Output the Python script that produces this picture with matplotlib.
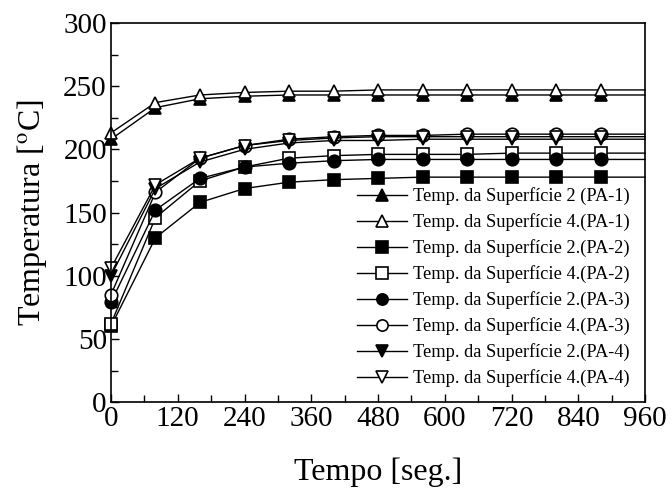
import matplotlib.pyplot as plt
from matplotlib.ticker import MultipleLocator

plt.rcParams['font.family'] = ['Liberation Serif', 'DejaVu Serif']
plt.rcParams['mathtext.fontset'] = 'stix'

# time (s): markers at 0..880, curve carried on to 960
tempo = [0, 80, 160, 240, 320, 400, 480, 560, 640, 720, 800, 880, 960]

s2_pa1 = [208, 233, 240, 242, 243, 243, 243, 243, 243, 243, 243, 243, 243]
s4_pa1 = [213, 237, 243, 245, 246, 246, 247, 247, 247, 247, 247, 247, 247]
s2_pa2 = [60, 130, 158, 169, 174, 176, 177, 178, 178, 178, 178, 178, 178]
s4_pa2 = [62, 146, 175, 186, 193, 195, 196, 196, 196, 197, 197, 197, 197]
s2_pa3 = [79, 152, 177, 186, 189, 191, 192, 192, 192, 192, 192, 192, 192]
s4_pa3 = [85, 166, 193, 203, 208, 210, 211, 211, 212, 212, 212, 212, 212]
s2_pa4 = [100, 169, 190, 200, 205, 207, 207, 208, 208, 208, 208, 208, 208]
s4_pa4 = [106, 172, 193, 203, 207, 209, 210, 210, 210, 210, 210, 210, 210]

series = [
    (s2_pa1, '^', 'k', 'Temp. da Superfície 2 (PA-1)'),
    (s4_pa1, '^', 'w', 'Temp. da Superfície 4.(PA-1)'),
    (s2_pa2, 's', 'k', 'Temp. da Superfície 2.(PA-2)'),
    (s4_pa2, 's', 'w', 'Temp. da Superfície 4.(PA-2)'),
    (s2_pa3, 'o', 'k', 'Temp. da Superfície 2.(PA-3)'),
    (s4_pa3, 'o', 'w', 'Temp. da Superfície 4.(PA-3)'),
    (s2_pa4, 'v', 'k', 'Temp. da Superfície 2.(PA-4)'),
    (s4_pa4, 'v', 'w', 'Temp. da Superfície 4.(PA-4)'),
]

fig = plt.figure(figsize=(6.71, 4.88), dpi=100)
ax = fig.add_axes([0.1654, 0.176, 0.796, 0.777])

for vals, mk, fc, lab in series:
    ax.plot(tempo, vals, color='k', lw=1.0, marker=mk, markersize=9,
            markerfacecolor=fc, markeredgecolor='k', markeredgewidth=1.2,
            markevery=slice(0, 12), label=lab, clip_on=False)

ax.set_xlim(0, 960)
ax.set_ylim(0, 300)
ax.xaxis.set_major_locator(MultipleLocator(120))
ax.xaxis.set_minor_locator(MultipleLocator(60))
ax.yaxis.set_major_locator(MultipleLocator(50))
ax.yaxis.set_minor_locator(MultipleLocator(25))
ax.tick_params(which='both', direction='in', top=False, right=False, labelsize=21, pad=3)
ax.tick_params(which='major', length=6, width=1)
ax.tick_params(which='minor', length=5, width=1)
for sp in ax.spines.values():
    sp.set_linewidth(1.2)

ax.set_xlabel('Tempo [seg.]', fontsize=23, labelpad=18)
ax.set_ylabel('Temperatura [$^{\\mathrm{o}}$C]', fontsize=23, labelpad=10)

ax.legend(loc='lower right', bbox_to_anchor=(0.995, 0.005), frameon=False,
          fontsize=13.2, handlelength=2.7, handletextpad=0.35, labelspacing=0.44,
          borderpad=0.2, markerscale=0.9)

fig.savefig('out.png', dpi=100)
